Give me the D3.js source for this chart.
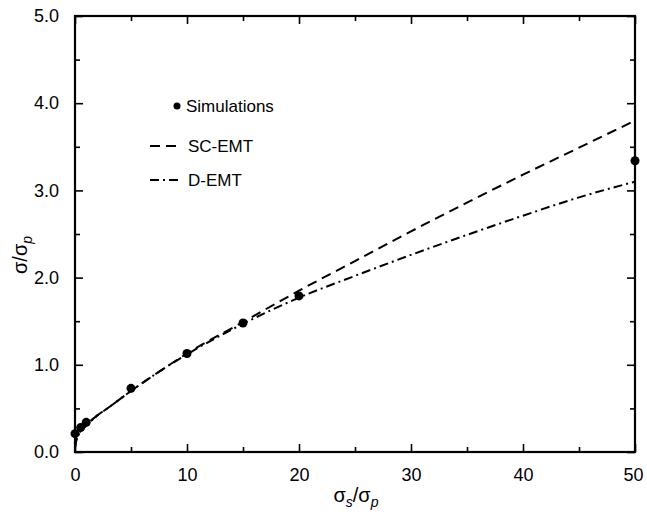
<!DOCTYPE html>
<html><head><meta charset="utf-8">
<script src="https://cdn.jsdelivr.net/npm/d3@7"></script>
<style>body{margin:0;background:#fff}svg{display:block}text{font-family:"Liberation Sans",Arial,sans-serif;fill:#000}</style>
</head><body>
<svg id="c" width="647" height="512"></svg>
<script>
const simX = [0, 0.5, 1, 5, 10, 15, 20, 50];
const simY = [0.21, 0.28, 0.34, 0.73, 1.13, 1.48, 1.79, 3.34];
const curveX = [0, 0.1, 0.5, 1, 2, 3, 5, 7.5, 10, 15, 20, 25, 30, 35, 40, 45, 50];
const scY = [0.05, 0.13, 0.24, 0.31, 0.42, 0.51, 0.70, 0.92, 1.13, 1.49, 1.85, 2.19, 2.53, 2.86, 3.18, 3.49, 3.80];
const dY  = [0.05, 0.12, 0.23, 0.30, 0.42, 0.51, 0.70, 0.92, 1.12, 1.47, 1.77, 2.02, 2.26, 2.49, 2.71, 2.92, 3.10];
const xTicks = [0, 10, 20, 30, 40, 50];
const xMinor = [5, 15, 25, 35, 45];
const yTicks = [0, 1, 2, 3, 4, 5];
const yMinor = [0.5, 1.5, 2.5, 3.5, 4.5];
const legendLabels = ["Simulations", "SC-EMT", "D-EMT"];

const L = 75, R = 635, T = 16, B = 452;
const svg = d3.select("#c");
const x = d3.scaleLinear().domain([0, 50]).range([L, R]);
const y = d3.scaleLinear().domain([0, 5]).range([B, T]);

function axis(gen, tr, ticks, size, fmt) {
  const g = svg.append("g").attr("transform", tr)
    .call(gen.tickValues(ticks).tickSize(size).tickFormat(fmt));
  g.select(".domain").remove();
  g.selectAll(".tick line").attr("stroke", "#000").attr("stroke-width", 1.6);
  g.selectAll("text").style("font-size", "18px").attr("font-family", "Liberation Sans, Arial, sans-serif");
  return g;
}
// bottom
const bx = axis(d3.axisBottom(x), `translate(0,${B})`, xTicks, -8, d3.format("d"));
bx.selectAll("text").attr("y", 16);
bx.selectAll("text").filter(d => d === 50).attr("dx", -2);
axis(d3.axisBottom(x), `translate(0,${B})`, xMinor, -5, "");
// top
axis(d3.axisTop(x), `translate(0,${T})`, xTicks, -8, "");
axis(d3.axisTop(x), `translate(0,${T})`, xMinor, -5, "");
// left
const ly = axis(d3.axisLeft(y), `translate(${L},0)`, yTicks, -8, d3.format(".1f"));
ly.selectAll("text").attr("x", -16);
axis(d3.axisLeft(y), `translate(${L},0)`, yMinor, -5, "");
// right
axis(d3.axisRight(y), `translate(${R},0)`, yTicks, -8, "");
axis(d3.axisRight(y), `translate(${R},0)`, yMinor, -5, "");

svg.append("rect").attr("x", L).attr("y", T).attr("width", R - L).attr("height", B - T)
  .attr("fill", "none").attr("stroke", "#000").attr("stroke-width", 2.2);

const line = d3.line().x(d => x(d[0])).y(d => y(d[1])).curve(d3.curveMonotoneX);
svg.append("path").datum(curveX.map((v, i) => [v, scY[i]])).attr("d", line)
  .attr("fill", "none").attr("stroke", "#000").attr("stroke-width", 2).attr("stroke-dasharray", "10,6");
svg.append("path").datum(curveX.map((v, i) => [v, dY[i]])).attr("d", line)
  .attr("fill", "none").attr("stroke", "#000").attr("stroke-width", 2).attr("stroke-dasharray", "9,4,2,4");

svg.selectAll("circle.sim").data(simX.map((v, i) => [v, simY[i]])).join("circle")
  .attr("class", "sim").attr("cx", d => x(d[0])).attr("cy", d => y(d[1])).attr("r", 4.5).attr("fill", "#000");

// legend
svg.append("circle").attr("cx", 177).attr("cy", 106).attr("r", 3.5).attr("fill", "#000");
svg.append("line").attr("x1", 150).attr("x2", 180).attr("y1", 146).attr("y2", 146)
  .attr("stroke", "#000").attr("stroke-width", 2).attr("stroke-dasharray", "10,6");
svg.append("line").attr("x1", 150).attr("x2", 180).attr("y1", 180).attr("y2", 180)
  .attr("stroke", "#000").attr("stroke-width", 2).attr("stroke-dasharray", "9,4,2,4");
[[186, 112], [188, 152], [188, 186]].forEach((p, i) => {
  svg.append("text").attr("x", p[0]).attr("y", p[1]).style("font-size", "17px").text(legendLabels[i]);
});

// axis titles
const xt = svg.append("text").attr("x", 356).attr("y", 502).attr("text-anchor", "middle").style("font-size", "20px");
xt.append("tspan").text("σ");
xt.append("tspan").attr("font-style", "italic").attr("dy", 5).style("font-size", "14px").text("s");
xt.append("tspan").attr("dy", -5).text("/σ");
xt.append("tspan").attr("font-style", "italic").attr("dy", 5).style("font-size", "14px").text("p");

const yt = svg.append("text").attr("transform", "translate(27,255) rotate(-90)").attr("text-anchor", "middle").style("font-size", "20px");
yt.append("tspan").text("σ/σ");
yt.append("tspan").attr("font-style", "italic").attr("dy", 5).style("font-size", "14px").text("p");
</script>
</body></html>
